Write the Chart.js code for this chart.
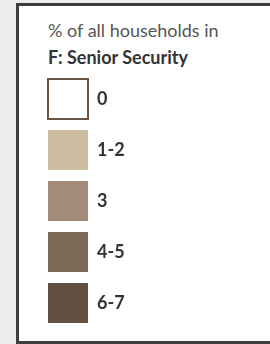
<!DOCTYPE html>
<html>
<head>
<meta charset="utf-8">
<script src="https://cdn.jsdelivr.net/npm/chart.js@4/dist/chart.umd.min.js"></script>
<style>
  html, body { margin: 0; padding: 0; overflow: hidden; }
  body { width: 270px; height: 344px; background: #ececec; position: relative; font-family: Lato, "Open Sans", sans-serif; }
  .frame { position: absolute; left: 16px; top: 3px; width: 300px; height: 335px; background: #fff; border: 3px solid #3d3d3d; }
  .title { position: absolute; left: 48px; top: 19px; font-size: 18px; color: #555; white-space: nowrap; }
  .subtitle { position: absolute; left: 48px; top: 46px; font-size: 18px; font-weight: bold; color: #333; white-space: nowrap; }
  .legend-wrap { position: absolute; left: 37px; top: 68px; width: 220px; height: 270px; }
</style>
</head>
<body>
<div class="frame"></div>
<div class="title">% of all households in</div>
<div class="subtitle">F: Senior Security</div>
<div class="legend-wrap"><canvas id="legendChart"></canvas></div>
<script>
const categories = ["0", "1-2", "3", "4-5", "6-7"];
const fillColors = ["#ffffff", "#cbbca1", "#a48a79", "#7b6a57", "#625043"];
const edgeColors = ["#6b5646", "#cbbca1", "#a48a79", "#7b6a57", "#625043"];
const edgeWidths = [2, 0, 0, 0, 0];

const datasets = categories.map((cat, i) => ({
    label: cat,
    data: [],
    backgroundColor: fillColors[i],
    borderColor: edgeColors[i],
    borderWidth: edgeWidths[i],
}));

const ctx = document.getElementById("legendChart").getContext("2d");
const legendChart = new Chart(ctx, {
    type: "bar",
    data: { labels: [], datasets: datasets },
    options: {
        responsive: true,
        maintainAspectRatio: false,
        animation: false,
        events: [],
        layout: { padding: 0 },
        scales: { x: { display: false }, y: { display: false } },
        plugins: {
            tooltip: { enabled: false },
            legend: {
                position: "left",
                align: "start",
                maxWidth: 220,
                labels: {
                    boxWidth: 40,
                    boxHeight: 40,
                    padding: 11,
                    color: "#333",
                    font: { family: "Lato", size: 18, weight: "bold" },
                },
            },
        },
    },
});
</script>
</body>
</html>
